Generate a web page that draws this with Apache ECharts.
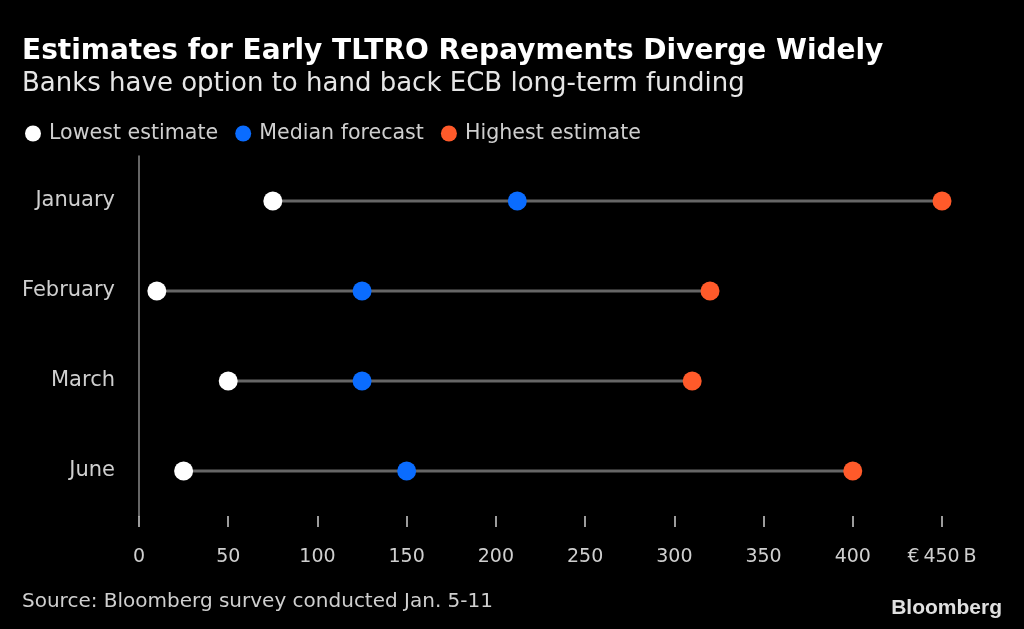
<!DOCTYPE html>
<html>
<head>
<meta charset="utf-8">
<script src="https://cdn.jsdelivr.net/npm/echarts@6/dist/echarts.min.js"></script>
<style>
html,body{margin:0;padding:0;background:#000;}
#c{width:1024px;height:629px;}
</style>
</head>
<body>
<div id="c"></div>
<script>
var categories = ['January', 'February', 'March', 'June'];
var lowest = [75, 10, 50, 25];
var median = [212, 125, 125, 150];
var highest = [450, 320, 310, 400];
var xTicks = [0, 50, 100, 150, 200, 250, 300, 350, 400, 450];

var FONT = 'DejaVu Sans';
var chart = echarts.init(document.getElementById('c'));

var rangeData = categories.map(function (c, i) { return [lowest[i], highest[i], i]; });

var option = {
  backgroundColor: '#000',
  animation: false,
  textStyle: { fontFamily: FONT },
  title: [
    { text: 'Estimates for Early TLTRO Repayments Diverge Widely', left: 22, top: 38, padding: 0,
      textStyle: { color: '#fff', fontSize: 28, fontWeight: 'bold', fontFamily: FONT } },
    { text: 'Banks have option to hand back ECB long-term funding', left: 22, top: 71, padding: 0,
      textStyle: { color: '#e6e6e6', fontSize: 26, fontWeight: 'normal', fontFamily: FONT } },
    { text: 'Source: Bloomberg survey conducted Jan. 5-11', left: 22, top: 592, padding: 0,
      textStyle: { color: '#cfcfcf', fontSize: 20, fontWeight: 'normal', fontFamily: FONT } },
    { text: 'Bloomberg', right: 22, top: 598, padding: 0,
      textStyle: { color: '#e0e0e0', fontSize: 21, fontWeight: 'bold', fontFamily: 'Liberation Sans' } }
  ],
  legend: {
    left: 20, top: 118, icon: 'circle', itemWidth: 16, itemHeight: 16, itemGap: 17,
    textStyle: { color: '#cfcfcf', fontSize: 20.6, fontFamily: FONT, padding: [0, 0, 0, 3] },
    data: ['Lowest estimate', 'Median forecast', 'Highest estimate']
  },
  grid: { left: 139, right: 82, top: 156, bottom: 113 },
  xAxis: {
    type: 'value', min: 0, max: 450, interval: 50,
    axisLine: { show: false },
    splitLine: { show: false },
    axisTick: { show: true, length: 11, lineStyle: { color: '#cfcfcf', width: 1.5 } },
    axisLabel: {
      color: '#cfcfcf', fontSize: 19, margin: 32, fontFamily: FONT,
      formatter: function (v) {
        if (xTicks.indexOf(v) < 0) return '';
        return v === xTicks[xTicks.length - 1] ? '\u20ac\u2009' + v + '\u2009B' : String(v);
      }
    }
  },
  yAxis: {
    type: 'category', data: categories, inverse: true,
    axisLine: { show: true, lineStyle: { color: '#888', width: 1.5 } },
    axisTick: { show: false },
    axisLabel: { color: '#cfcfcf', fontSize: 21, margin: 24, fontFamily: FONT }
  },
  series: [
    {
      type: 'custom', name: 'range', silent: true, z: 1,
      encode: { x: [0, 1], y: 2 },
      renderItem: function (params, api) {
        var a = api.coord([api.value(0), api.value(2)]);
        var b = api.coord([api.value(1), api.value(2)]);
        return { type: 'line', shape: { x1: a[0], y1: a[1], x2: b[0], y2: b[1] },
                 style: { stroke: '#666', lineWidth: 3 } };
      },
      data: rangeData
    },
    { type: 'scatter', name: 'Lowest estimate', symbolSize: 19, z: 3,
      itemStyle: { color: '#ffffff', opacity: 1 },
      data: categories.map(function (c, i) { return [lowest[i], c]; }) },
    { type: 'scatter', name: 'Median forecast', symbolSize: 19, z: 3,
      itemStyle: { color: '#0a6cff', opacity: 1 },
      data: categories.map(function (c, i) { return [median[i], c]; }) },
    { type: 'scatter', name: 'Highest estimate', symbolSize: 19, z: 3,
      itemStyle: { color: '#ff5a2a', opacity: 1 },
      data: categories.map(function (c, i) { return [highest[i], c]; }) }
  ]
};
chart.setOption(option);
</script>
</body>
</html>
